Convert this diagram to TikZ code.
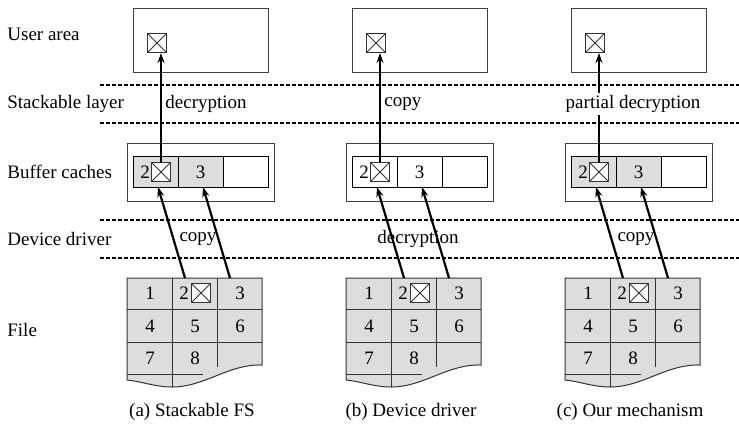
\documentclass[tikz,border=0pt]{standalone}
\usepackage{fontspec}
\setmainfont{Liberation Serif}
\usetikzlibrary{arrows.meta}
\definecolor{cellgray}{HTML}{DDDDDD}
\begin{document}
\begin{tikzpicture}[x=0.5pt,y=-0.5pt,
  every node/.style={font=\fontsize{9.5}{11}\selectfont, inner sep=0pt},
  layerline/.style={draw=black, line width=0.7pt, dash pattern=on 2pt off 1pt},
  boxline/.style={draw=black!75, line width=0.5pt},
  xbox/.style={draw=black!80, line width=0.5pt, fill=white, minimum size=9.5pt,
    path picture={\draw[black!80, line width=0.5pt]
      (path picture bounding box.north west) -- (path picture bounding box.south east)
      (path picture bounding box.north east) -- (path picture bounding box.south west);}},
  cellbox/.style={draw=black, line width=0.5pt, minimum width=22.5pt, minimum height=15.5pt},
  flow/.style={line width=1.1pt, -{Stealth[length=5pt,width=3.5pt]}},
  lbl/.style={fill=white, inner sep=1pt}
]
\useasboundingbox (0,0) rectangle (739,436);

% layer lines
\foreach \yy/\nm in {85/l1,123/l2,220/l3,258/l4}{
  \coordinate (\nm s) at (100,\yy);
  \coordinate (\nm e) at (739,\yy);
  \draw[layerline] (\nm s) -- (\nm e);
}

% left labels
\node[anchor=west] (luser) at (7,34) {User area};
\node[anchor=west] (lstack) at (7,104) {Stackable layer};
\node[anchor=west] (lbuf) at (7,172) {Buffer caches};
\node[anchor=west] (ldev) at (7,239) {Device driver};
\node[anchor=west] (lfile) at (7,330) {File};

\foreach \p/\dx/\cf in {a/0/cellgray, b/219/white, c/438/cellgray}{
\begin{scope}[xshift=\dx*0.5pt]
  % user area
  \node[boxline, minimum width=67.5pt, minimum height=32pt] (user\p) at (200.5,40) {};
  \node[xbox] (ux\p) at (157,43) {};
  % buffer caches
  \node[boxline, minimum width=73.5pt, minimum height=29pt] (buf\p) at (200.5,172) {};
  \node[cellbox, fill=\cf] (bc1\p) at (155.5,171.5) {};
  \node[cellbox, fill=\cf] (bc2\p) at (200.5,171.5) {};
  \node[cellbox, fill=white] (bc3\p) at (245.5,171.5) {};
  \node (btwo\p) at (145,172) {2};
  \node[xbox] (bx\p) at (161,172) {};
  \node (bthree\p) at (200.5,172) {3};
  % file
  \filldraw[fill=cellgray, draw=black!80, line width=0.5pt]
    (127,278) -- (262,278) -- (262,365)
    .. controls (228,364) and (205,387) .. (172,387)
    .. controls (155,387) and (140,381) .. (127,380) -- cycle;
  \draw[black!80, line width=0.5pt] (127,309) -- (262,309);
  \draw[black!80, line width=0.5pt] (127,342) -- (262,342);
  \draw[black!80, line width=0.5pt] (127,374) -- (203,374);
  \draw[black!80, line width=0.5pt] (172,278) -- (172,387);
  \draw[black!80, line width=0.5pt] (217,278) -- (217,367);
  \node (f1\p) at (150,293) {1};
  \node (f2\p) at (184,293) {2};
  \node[xbox] (fx\p) at (201,293) {};
  \node (f3\p) at (240,293) {3};
  \node (f4\p) at (150,326) {4};
  \node (f5\p) at (195,326) {5};
  \node (f6\p) at (240,326) {6};
  \node (f7\p) at (150,358) {7};
  \node (f8\p) at (195,358) {8};
  % arrows
  \coordinate (s2\p) at (185,278);
  \coordinate (s3\p) at (230,278);
  \coordinate (t2\p) at (158,187);
  \coordinate (t3\p) at (203,187);
  \draw[flow] (s2\p) -- (t2\p);
  \draw[flow] (s3\p) -- (t3\p);
  \draw[flow] (bx\p.north) -- (bx\p.north |- ux\p.south);
\end{scope}
}

% stackable layer labels
\node[anchor=west] (sa) at (165,104) {decryption};
\node[anchor=west] (sb) at (384,104) {copy};
\node[lbl] (sc) at (633,104) {partial decryption};
% device driver labels
\node (da) at (198,239) {copy};
\node (db) at (418,239) {decryption};
\node (dc) at (636,239) {copy};

% captions
\node (capa) at (192,412) {(a) Stackable FS};
\node (capb) at (411,412) {(b) Device driver};
\node (capc) at (630,412) {(c) Our mechanism};
\end{tikzpicture}
\end{document}
